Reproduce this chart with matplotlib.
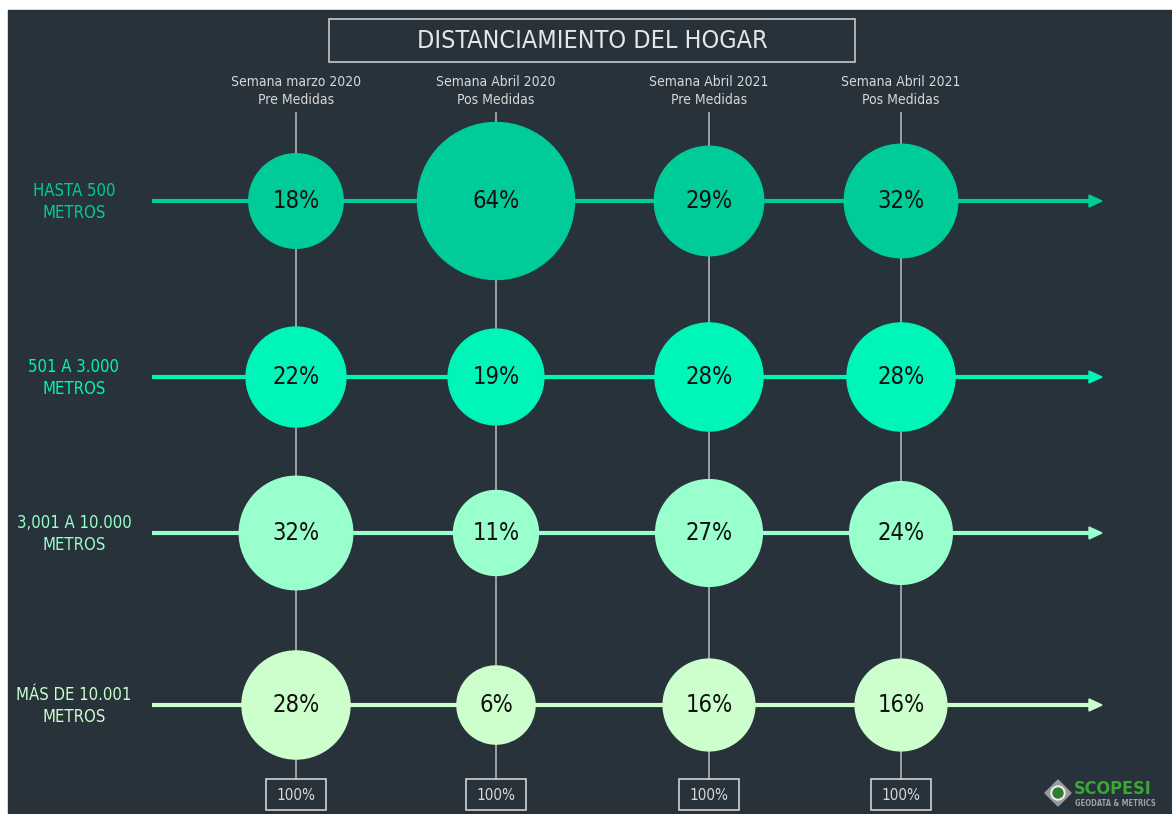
import matplotlib
matplotlib.use("Agg")
import matplotlib.pyplot as plt
from matplotlib.patches import Circle, Rectangle, Polygon

plt.rcParams['font.family'] = ['DejaVu Sans']
plt.rcParams['font.stretch'] = 'condensed'

title = 'DISTANCIAMIENTO DEL HOGAR'
periods = ['Semana marzo 2020\nPre Medidas', 'Semana Abril 2020\nPos Medidas',
           'Semana Abril 2021\nPre Medidas', 'Semana Abril 2021\nPos Medidas']
distances = ['HASTA 500\nMETROS', '501 A 3.000\nMETROS',
             '3,001 A 10.000\nMETROS', 'MÁS DE 10.001\nMETROS']
# percent of trips per distance band (rows) and period (columns)
hasta_500 = [18, 64, 29, 32]
de_501_3000 = [22, 19, 28, 28]
de_3001_10000 = [32, 11, 27, 24]
mas_10001 = [28, 6, 16, 16]
totals = ['100%', '100%', '100%', '100%']

rows = [hasta_500, de_501_3000, de_3001_10000, mas_10001]
row_colors = ['#00cc99', '#00f5b8', '#99ffcc', '#ccffcc']
bg = '#27323a'

W, H = 1172, 814
fig = plt.figure(figsize=(W / 100, H / 100), dpi=100)
fig.patch.set_facecolor('white')
ax = fig.add_axes([0, 0, 1, 1])
ax.set_xlim(0, W)
ax.set_ylim(H, 0)
ax.set_aspect('equal')
ax.axis('off')
ax.add_patch(Rectangle((8, 10), W, H, color=bg, zorder=0))

col_x = [296, 496, 709, 901]
row_y = [201, 377, 533, 705]

# title box
ax.add_patch(Rectangle((329, 19), 526, 43, fill=False, ec='#c8c8c8', lw=1.2, zorder=2))
ax.text(592, 41, title, color='#e6e6e6', fontsize=18, ha='center', va='center')

# column headers, vertical guides and total boxes
for x, p, t in zip(col_x, periods, totals):
    ax.text(x, 91, p, color='#d8d8d8', fontsize=10, ha='center', va='center',
            linespacing=1.3)
    ax.plot([x, x], [113, 779], color='#a8a8a8', lw=1.3, zorder=1)
    ax.add_patch(Rectangle((x - 30, 779), 60, 31, fill=False, ec='#d0d0d0', lw=1.2, zorder=2))
    ax.text(x, 795, t, color='#d8d8d8', fontsize=11, ha='center', va='center')

# rows: label, arrow, bubbles
for y, label, vals, c in zip(row_y, distances, rows, row_colors):
    ax.text(74, y + 1, label, color=c, fontsize=12, ha='center', va='center',
            linespacing=1.3)
    ax.plot([152, 1092], [y, y], color=c, lw=3, zorder=1, solid_capstyle='butt')
    ax.add_patch(Polygon([[1089, y - 6], [1102, y], [1089, y + 6]], closed=True,
                         color=c, zorder=1))
    for x, v in zip(col_x, vals):
        r = 35 + 0.68 * v
        ax.add_patch(Circle((x, y), r, color=c, zorder=3))
        ax.text(x, y, f'{v}%', color='#111111', fontsize=17, ha='center',
                va='center', zorder=4)

# logo
ax.add_patch(Polygon([[1058, 780], [1071, 793], [1058, 806], [1045, 793]],
                     closed=True, color='#9a9a9a', zorder=2))
ax.add_patch(Circle((1058, 793), 7, color='#f0f0f0', zorder=3))
ax.add_patch(Circle((1058, 793), 5, color='#2e7d32', zorder=4))
ax.text(1074, 789, 'SCOPESI', color='#3aa635', fontsize=13, ha='left',
        va='center', fontweight='bold')
ax.text(1075, 803, 'GEODATA & METRICS', color='#a0a0a0', fontsize=5.5,
        ha='left', va='center', fontweight='bold')

fig.savefig('out.png', dpi=100, facecolor=fig.get_facecolor())
